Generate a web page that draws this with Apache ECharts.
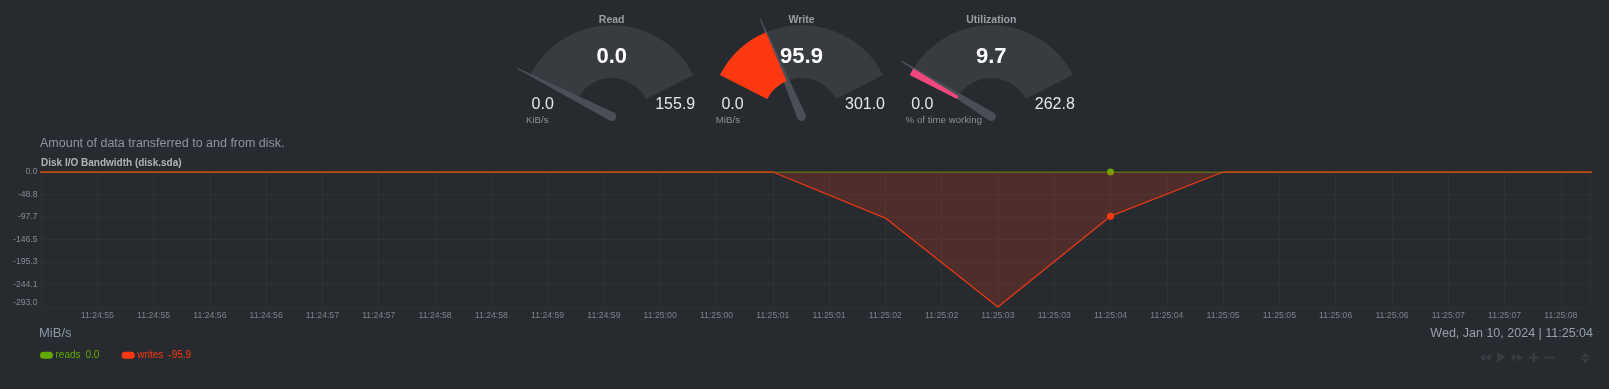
<!DOCTYPE html>
<html><head><meta charset="utf-8">
<script src="https://cdn.jsdelivr.net/npm/echarts@6/dist/echarts.min.js"></script>
<style>html,body{margin:0;padding:0;background:#272b30;overflow:hidden}#c{width:1609px;height:389px}</style>
</head><body><div id="c"></div>
<script>
// ---- data ----
const times = ['11:24:54','11:24:55','11:24:56','11:24:57','11:24:58','11:24:59','11:25:00','11:25:01','11:25:02','11:25:03','11:25:04','11:25:05','11:25:06','11:25:07','11:25:08','11:25:09'];
const reads  = [0,0,0,0,0,0,0,0,0,0,0,0,0,0,0,0];
const writes = [0,0,0,0,0,0,0,0,-100.0,-292.9,-95.9,0,0,0,0,0];
const yTickLabels = ['0.0','-48.8','-97.7','-146.5','-195.3','-244.1','-293.0'];
const seriesNames = ['reads','writes'];
const seriesColors = ['#66aa00','#fe3912'];
const highlightTime = '11:25:04';
const dateLabel = 'Wed, Jan 10, 2024';
const unitsLabel = 'MiB/s';
const infoText = 'Amount of data transferred to and from disk.';
const chartTitle = 'Disk I/O Bandwidth (disk.sda)';

const gaugeNames  = ['Read','Write','Utilization'];
const gaugeValues = [0.0, 95.9, 9.7];
const gaugeMin    = [0.0, 0.0, 0.0];
const gaugeMax    = [155.9, 301.0, 262.8];
const gaugeUnits  = ['KiB/s','MiB/s','% of time working'];
const gaugeColors = ['#66aa00','#fe3912','#f2477e'];

// ---- helpers ----
const FONT = "'Liberation Sans', Arial, sans-serif";
function toSec(t){const p=t.split(':').map(Number);return p[0]*3600+p[1]*60+p[2];}
function fmtSec(s){s=Math.floor(s+1e-6);const h=Math.floor(s/3600),m=Math.floor(s%3600/60),x=s%60;
  const z=n=>String(n).padStart(2,'0');return z(h)+':'+z(m)+':'+z(x);}
const xs = times.map(toSec);
const hi = times.indexOf(highlightTime);
const yInterval = 48.825, yMin = -292.95;
const xMin = xs[0] + 0.5, xMax = xMin + 13.759;

function mkData(arr, color){
  return arr.map((v,i)=> i===hi
    ? {value:[xs[i],v], symbol:'circle', symbolSize:7, itemStyle:{color:color}}
    : {value:[xs[i],v]});
}

const cnv=document.createElement('canvas').getContext('2d');
function tw(t,f){cnv.font=f;return cnv.measureText(t).width;}

// gauges
const gCenters=[611.7,801.5,991.3], gY=116.5, gR=91.5, gW=53;
const gaugeSeries = gaugeNames.map((n,i)=>({
  type:'gauge', center:[gCenters[i],gY], radius:gR, startAngle:153, endAngle:27,
  min:gaugeMin[i], max:gaugeMax[i], silent:true, animation:false,
  axisLine:{lineStyle:{width:gW,color:[[1,'#383b40']]}},
  progress:{show:true,width:gW,roundCap:false,itemStyle:{color:gaugeColors[i]}},
  splitLine:{show:false}, axisTick:{show:false}, axisLabel:{show:false},
  pointer:{show:true,icon:'path://M4.4,0 L5.6,0 L10,100 L0,100 Z',length:'116%',width:9,
    itemStyle:{color:'#4b4f55'}},
  anchor:{show:true,size:9,showAbove:false,itemStyle:{color:'#4b4f55'}},
  title:{show:true,offsetCenter:[0,-96],color:'#9b9fa4',fontSize:10.5,fontWeight:'bold',fontFamily:FONT},
  detail:{show:true,offsetCenter:[0,-59.5],color:'#ffffff',fontSize:22,fontWeight:'bold',fontFamily:FONT,
    formatter:v=>v.toFixed(1)},
  data:[{value:gaugeValues[i],name:n}]
}));

const graphics=[];
gaugeNames.forEach((n,i)=>{
  const cx=gCenters[i];
  graphics.push({type:'text',x:cx-69,y:105,style:{text:gaugeMin[i].toFixed(1),fill:'#e6e6e6',font:'16px '+FONT,align:'center',verticalAlign:'middle'}});
  graphics.push({type:'text',x:cx+63.5,y:105,style:{text:gaugeMax[i].toFixed(1),fill:'#e6e6e6',font:'16px '+FONT,align:'center',verticalAlign:'middle'}});
  graphics.push({type:'text',x:cx-85.7,y:120.5,style:{text:gaugeUnits[i],fill:'#8c9095',font:'9.7px '+FONT,align:'left',verticalAlign:'middle'}});
});
graphics.push({type:'text',x:40,y:143.3,style:{text:infoText,fill:'#8c96a1',font:'12.5px '+FONT,align:'left',verticalAlign:'middle'}});
graphics.push({type:'text',x:41,y:163.3,style:{text:chartTitle,fill:'#b0b4b8',font:'bold 10px '+FONT,align:'left',verticalAlign:'middle'}});
graphics.push({type:'text',x:39,y:333.3,style:{text:unitsLabel,fill:'#8b98a5',font:'13px '+FONT,align:'left',verticalAlign:'middle'}});
graphics.push({type:'text',x:1593,y:333.3,style:{text:dateLabel+' | '+times[hi],fill:'#98a0a8',font:'12.5px '+FONT,align:'right',verticalAlign:'middle'}});

// legend
const legVals=[reads[hi],writes[hi]];
const legX=[40,121.7];
seriesNames.forEach((n,i)=>{
  const x0=legX[i], f='10px '+FONT;
  graphics.push({type:'rect',shape:{x:x0,y:351.7,width:13,height:7,r:3.5},style:{fill:seriesColors[i]}});
  graphics.push({type:'text',x:x0+15.5,y:355.3,style:{text:n,fill:seriesColors[i],font:f,align:'left',verticalAlign:'middle'}});
  graphics.push({type:'text',x:x0+15.5+tw(n,f)+5,y:355.3,style:{text:legVals[i].toFixed(1),fill:seriesColors[i],font:f,align:'left',verticalAlign:'middle'}});
});

// toolbar icons
const bc='#383c41';
const polys=[
  [[1485.3,353.5],[1485.3,361.5],[1480,357.5]],
  [[1490.7,353.5],[1490.7,361.5],[1485.4,357.5]],
  [[1497,352],[1497,362.5],[1506,357.3]],
  [[1511.7,353.5],[1511.7,361.5],[1517,357.5]],
  [[1517.2,353.5],[1517.2,361.5],[1522.7,357.5]],
  [[1581,357],[1589.3,357],[1585.2,352.7]],
  [[1581,358.6],[1589.3,358.6],[1585.2,363.3]]
];
polys.forEach(p=>graphics.push({type:'polygon',shape:{points:p},style:{fill:bc}}));
[[1529.3,356.3,9,2.4],[1532.6,353,2.4,9],[1544.3,356.3,10,2.4]].forEach(r=>
  graphics.push({type:'rect',shape:{x:r[0],y:r[1],width:r[2],height:r[3]},style:{fill:bc}}));

const chart=echarts.init(document.getElementById('c'),null,{renderer:'canvas'});
chart.setOption({
  backgroundColor:'#272b30',
  animation:false,
  grid:{left:41,right:19,top:172,bottom:82,containLabel:false},
  xAxis:{type:'value',min:xMin,max:xMax,interval:0.5,
    axisLine:{show:false},axisTick:{show:false},
    splitLine:{show:true,lineStyle:{color:'#2c3336',width:1}},
    axisLabel:{margin:4,color:'#7e8389',fontSize:8.7,fontFamily:FONT,
      formatter:v=>{ if (Math.abs(v-xMin)<1e-6) return ''; if (Math.abs(v*2-Math.round(v*2))>1e-6) return ''; return fmtSec(v);} }},
  yAxis:{type:'value',min:yMin,max:0,interval:yInterval,
    axisLine:{show:false},axisTick:{show:false},
    splitLine:{show:true,lineStyle:{color:'#2c3336',width:1}},
    axisLabel:{margin:3.3,color:'#868b91',fontSize:8.7,fontFamily:FONT,padding:[3,0,0,0],
      verticalAlignMinLabel:'bottom',
      formatter:v=>{const k=Math.round(-v/yInterval);return yTickLabels[k]!==undefined?yTickLabels[k]:'';}}},
  series:[
    {type:'line',name:seriesNames[0],data:mkData(reads,seriesColors[0]),symbol:'none',showSymbol:true,
     showAllSymbol:true,lineStyle:{color:seriesColors[0],width:1.2},itemStyle:{color:seriesColors[0]},
     z:2,silent:true},
    {type:'line',name:seriesNames[1],data:mkData(writes,seriesColors[1]),symbol:'none',showSymbol:true,
     showAllSymbol:true,lineStyle:{color:seriesColors[1],width:1.3,opacity:0.9},itemStyle:{color:seriesColors[1]},
     areaStyle:{color:'rgba(254,57,18,0.27)'},z:3,silent:true}
  ].concat(gaugeSeries),
  graphic:graphics
});
</script></body></html>
